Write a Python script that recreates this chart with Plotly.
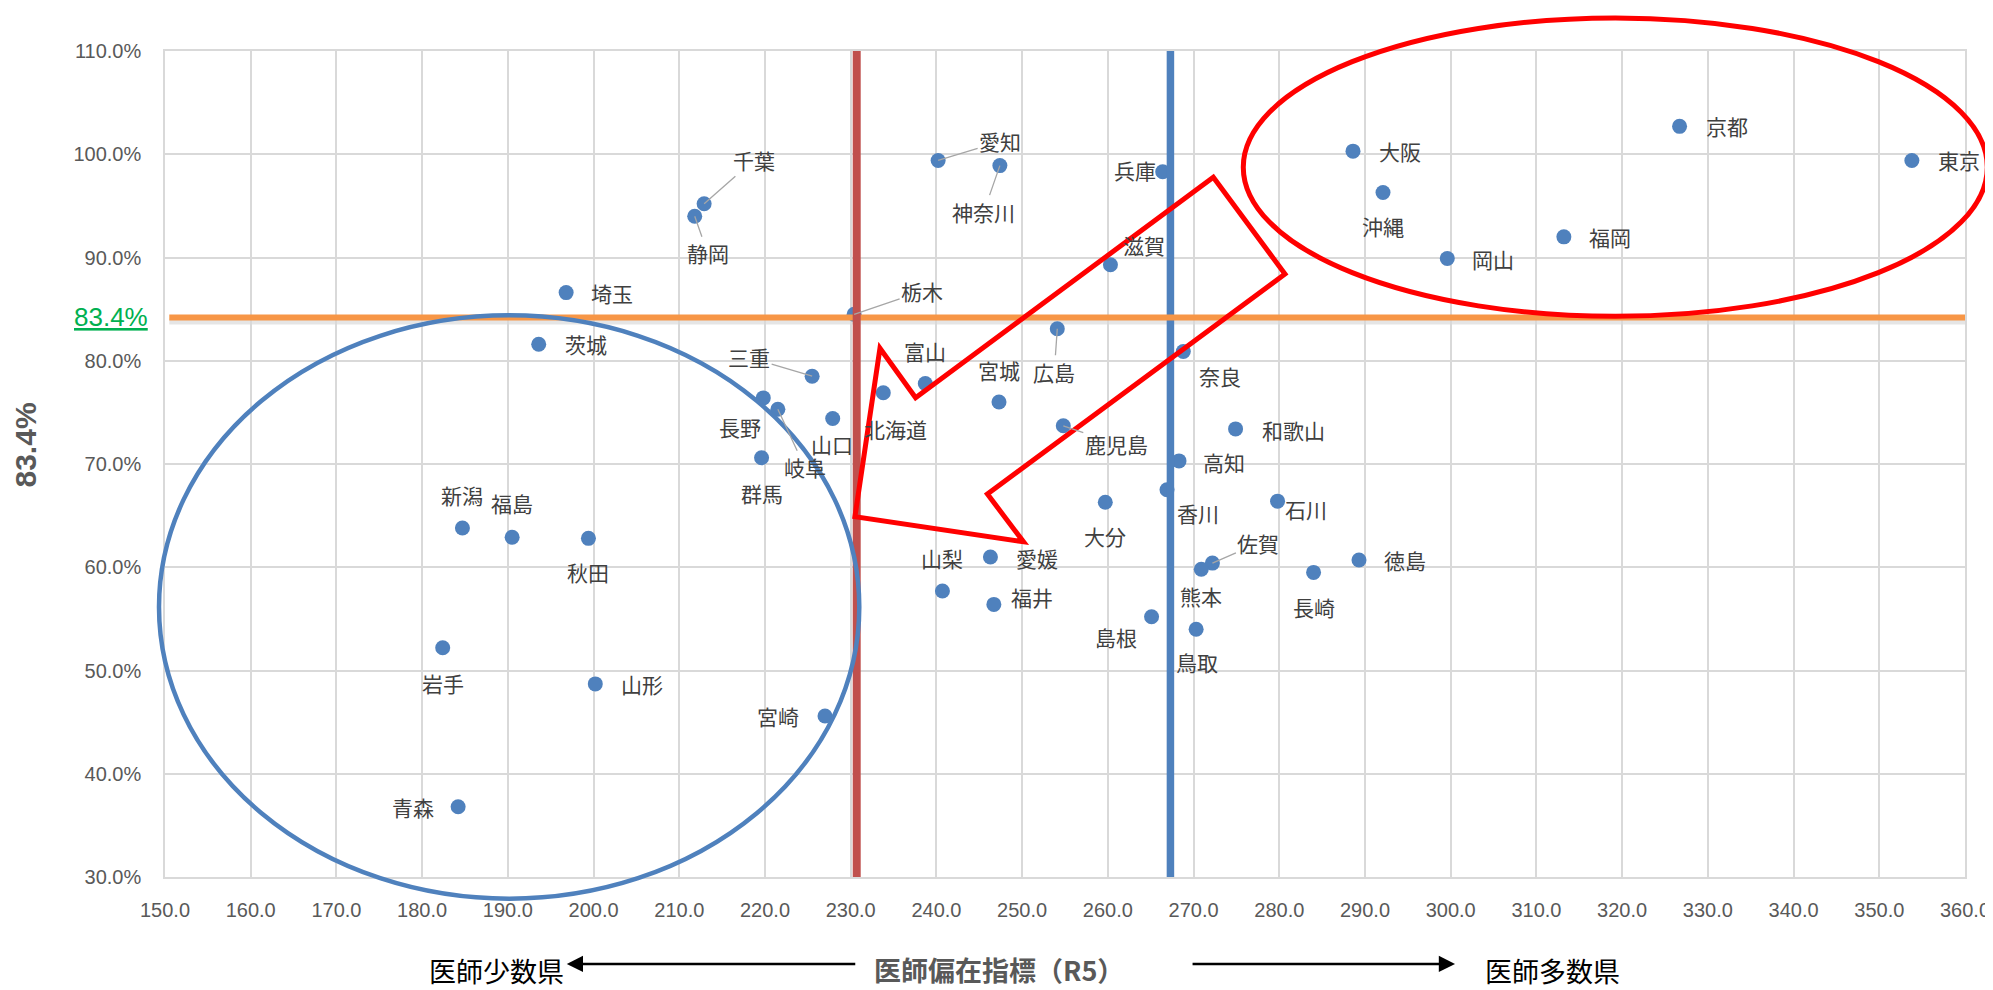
import plotly.graph_objects as go

# ---- data ----
prefectures = ["東京", "京都", "大阪", "沖縄", "福岡", "岡山", "兵庫", "滋賀", "愛知", "神奈川",
               "千葉", "静岡", "栃木", "埼玉", "茨城", "三重", "富山", "北海道", "長野", "岐阜",
               "山口", "群馬", "宮城", "広島", "鹿児島", "大分", "山梨", "愛媛", "福井", "島根",
               "奈良", "和歌山", "高知", "香川", "石川", "佐賀", "熊本", "徳島", "長崎", "鳥取",
               "新潟", "福島", "秋田", "岩手", "山形", "青森", "宮崎"]
doctor_index = [353.8, 326.7, 288.6, 292.1, 313.2, 299.6, 266.4, 260.3, 240.2, 247.4,
                212.9, 211.8, 230.4, 196.8, 193.6, 225.5, 238.7, 233.8, 219.8, 221.5,
                227.9, 219.6, 247.3, 254.1, 254.8, 259.7, 240.7, 246.3, 246.7, 265.1,
                268.8, 274.9, 268.3, 266.9, 279.8, 272.2, 270.9, 289.3, 284.0, 270.3,
                184.7, 190.5, 199.4, 182.4, 200.2, 184.2, 227.0]
rate_pct = [99.4, 102.7, 100.3, 96.3, 92.0, 89.9, 98.3, 89.3, 99.4, 98.9,
            95.2, 94.0, 84.5, 86.6, 81.6, 78.5, 77.8, 76.9, 76.4, 75.3,
            74.4, 70.6, 76.0, 83.1, 73.7, 66.3, 57.7, 61.0, 56.4, 55.2,
            80.9, 73.4, 70.3, 67.5, 66.4, 60.4, 59.8, 60.7, 59.5, 54.0,
            63.8, 62.9, 62.8, 52.2, 48.7, 36.8, 45.6]

avg_rate_line = 84.2        # orange reference line
red_ref_x = 230.7           # red reference line
blue_ref_x = 267.3          # blue reference line
avg_rate_label = "83.4%"

x_ticks = list(range(150, 361, 10))
y_ticks = list(range(30, 111, 10))
x_tick_text = [f"{v:.1f}" for v in x_ticks]
y_tick_text = [f"{v:.1f}%" for v in y_ticks]

# ---- label placement (pixel offsets from each point; True = leader line) ----
label_offsets = {
    "東京": (47, 0, False), "京都": (47, 0, False), "大阪": (47, 0, False), "沖縄": (0, 34, False),
    "福岡": (46, 0, False), "岡山": (46, 0, False), "兵庫": (-28, -2, False), "滋賀": (34, -20, False),
    "愛知": (62, -19, True), "神奈川": (-16, 46, True), "千葉": (50, -44, True), "静岡": (13, 37, True),
    "栃木": (68, -23, True), "埼玉": (46, 0, False), "茨城": (47, 0, False), "三重": (-63, -19, True),
    "富山": (0, -32, False), "北海道": (12, 36, False), "長野": (-23, 29, False), "岐阜": (27, 58, True),
    "山口": (-1, 25, False), "群馬": (0, 35, False), "宮城": (0, -32, False), "広島": (-3, 43, True),
    "鹿児島": (53, 18, True), "大分": (0, 34, False), "山梨": (0, -33, False), "愛媛": (47, 1, False),
    "福井": (38, -7, False), "島根": (-36, 20, False), "奈良": (37, 25, False), "和歌山": (58, 1, False),
    "高知": (45, 1, False), "香川": (31, 23, False), "石川": (28, 8, False), "佐賀": (46, -20, True),
    "熊本": (0, 27, False), "徳島": (46, 0, False), "長崎": (0, 35, False), "鳥取": (1, 33, False),
    "新潟": (0, -33, False), "福島": (0, -34, False), "秋田": (0, 34, False), "岩手": (0, 35, False),
    "山形": (47, 0, False), "青森": (-45, 0, False), "宮崎": (-47, 0, False),
}

X_RANGE = [150, 360]
Y_RANGE = [30, 110]


def px_(x):
    return (x - X_RANGE[0]) / (X_RANGE[1] - X_RANGE[0])


def py_(y):
    return (y - Y_RANGE[0]) / (Y_RANGE[1] - Y_RANGE[0])


JP = "Noto Sans CJK JP"
LBL = "#404040"
GRID = "#D9D9D9"
TICKF = "Liberation Sans, Arial"

fig = go.Figure()

fig.add_trace(go.Scatter(x=doctor_index, y=rate_pct, mode="markers",
                         marker=dict(size=15, color="#4F81BD"), showlegend=False,
                         hoverinfo="skip"))
fig.add_trace(go.Scatter(x=[blue_ref_x, blue_ref_x], y=Y_RANGE, mode="lines",
                         line=dict(color="#4F81BD", width=7.5), showlegend=False))
fig.add_trace(go.Scatter(x=[X_RANGE[0] + 0.5, X_RANGE[1]], y=[avg_rate_line, avg_rate_line],
                         mode="lines", line=dict(color="#F79646", width=6), showlegend=False))
fig.add_trace(go.Scatter(x=[red_ref_x, red_ref_x], y=Y_RANGE, mode="lines",
                         line=dict(color="#C0504D", width=8), showlegend=False))

shapes = []
# soft shadow under orange line
shapes.append(dict(type="line", xref="x", yref="y", ysizemode="pixel", yanchor=avg_rate_line,
                   x0=X_RANGE[0] + 0.5, x1=X_RANGE[1], y0=-4, y1=-4,
                   line=dict(color="rgba(0,0,0,0.10)", width=6), layer="below"))

# red ellipse (high doctor prefectures)
shapes.append(dict(type="circle", xref="paper", yref="paper",
                   x0=px_(275.8), x1=px_(362.6), y0=py_(84.3), y1=py_(113.2),
                   line=dict(color="#FF0000", width=5), layer="above"))
# blue ellipse (low doctor prefectures)
shapes.append(dict(type="circle", xref="paper", yref="paper",
                   x0=px_(149.3), x1=px_(231.0), y0=py_(27.9), y1=py_(84.4),
                   line=dict(color="#4F81BD", width=4.5), layer="above"))
# red outlined arrow
arrow_pts = [(272.3, 97.77), (280.67, 88.40), (245.94, 67.09), (250.14, 62.47),
             (230.50, 64.90), (233.42, 81.21), (237.58, 76.42)]
path = "M " + " L ".join(f"{px_(a):.4f},{py_(b):.4f}" for a, b in arrow_pts) + " Z"
shapes.append(dict(type="path", xref="paper", yref="paper", path=path,
                   line=dict(color="#FF0000", width=5), fillcolor="rgba(0,0,0,0)",
                   layer="above"))

annotations = []
for name, xv, yv in zip(prefectures, doctor_index, rate_pct):
    dx, dy, leader = label_offsets[name]
    if leader:
        annotations.append(dict(x=xv, y=yv, xref="x", yref="y", text=name,
                                showarrow=True, ax=dx, ay=dy, arrowhead=0,
                                arrowwidth=1.3, arrowcolor="#A6A6A6", standoff=0,
                                font=dict(family=JP, size=21, color=LBL)))
    else:
        annotations.append(dict(x=xv, y=yv, xref="x", yref="y", text=name,
                                showarrow=False, xshift=dx, yshift=-dy,
                                xanchor="center", yanchor="middle",
                                font=dict(family=JP, size=21, color=LBL)))

# green 83.4% label on the y axis
annotations.append(dict(x=-0.0083, y=avg_rate_line, xref="paper", yref="y",
                        text=f"<u>{avg_rate_label}</u>", showarrow=False,
                        xanchor="right", yanchor="middle",
                        font=dict(family=TICKF, size=26, color="#00B050")))
# y-axis title
annotations.append(dict(x=-0.0775, y=0.523, xref="paper", yref="paper",
                        text=f"<b>{avg_rate_label}</b>", textangle=-90, showarrow=False,
                        xanchor="center", yanchor="middle", borderpad=0,
                        font=dict(family=TICKF, size=30, color="#595959")))
# x-axis title and side captions
annotations.append(dict(x=0.4633, y=-0.1114, xref="paper", yref="paper",
                        text="<b>医師偏在指標（R5）</b>", showarrow=False,
                        xanchor="center", yanchor="middle",
                        font=dict(family=JP, size=27, color="#595959")))
annotations.append(dict(x=0.1839, y=-0.1138, xref="paper", yref="paper",
                        text="医師少数県", showarrow=False,
                        xanchor="center", yanchor="middle",
                        font=dict(family=JP, size=27, color="#000000")))
annotations.append(dict(x=0.7706, y=-0.1138, xref="paper", yref="paper",
                        text="医師多数県", showarrow=False,
                        xanchor="center", yanchor="middle",
                        font=dict(family=JP, size=27, color="#000000")))
# arrows
annotations.append(dict(x=0.2232, y=-0.1053, xref="paper", yref="paper", text="",
                        showarrow=True, ax=290, ay=0, arrowhead=2, arrowsize=1.3,
                        arrowwidth=2.5, arrowcolor="#000000"))
annotations.append(dict(x=0.7167, y=-0.1053, xref="paper", yref="paper", text="",
                        showarrow=True, ax=-264, ay=0, arrowhead=2, arrowsize=1.3,
                        arrowwidth=2.5, arrowcolor="#000000"))

# the page body has an 8px margin, so the figure is sized/offset to compensate
fig.update_layout(
    width=1985, height=982,
    margin=dict(l=157, r=28, t=43, b=113, autoexpand=False),
    paper_bgcolor="white", plot_bgcolor="white",
    shapes=shapes, annotations=annotations,
    showlegend=False,
)
fig.update_xaxes(range=X_RANGE, tickvals=x_ticks, ticktext=x_tick_text, automargin=False,
                 showgrid=True, gridcolor=GRID, gridwidth=1.5,
                 showline=True, linecolor=GRID, linewidth=1.5, mirror=True,
                 zeroline=False, ticks="", ticklabelstandoff=14, ticklabeloverflow="allow",
                 tickfont=dict(family=TICKF, size=20, color="#595959"))
fig.update_yaxes(range=Y_RANGE, tickvals=y_ticks, ticktext=y_tick_text, automargin=False,
                 showgrid=True, gridcolor=GRID, gridwidth=1.5,
                 showline=True, linecolor=GRID, linewidth=1.5, mirror=True,
                 zeroline=False, ticks="", ticklabelstandoff=18, ticklabeloverflow="allow",
                 tickfont=dict(family=TICKF, size=20, color="#595959"))

fig.write_html("out.html")
